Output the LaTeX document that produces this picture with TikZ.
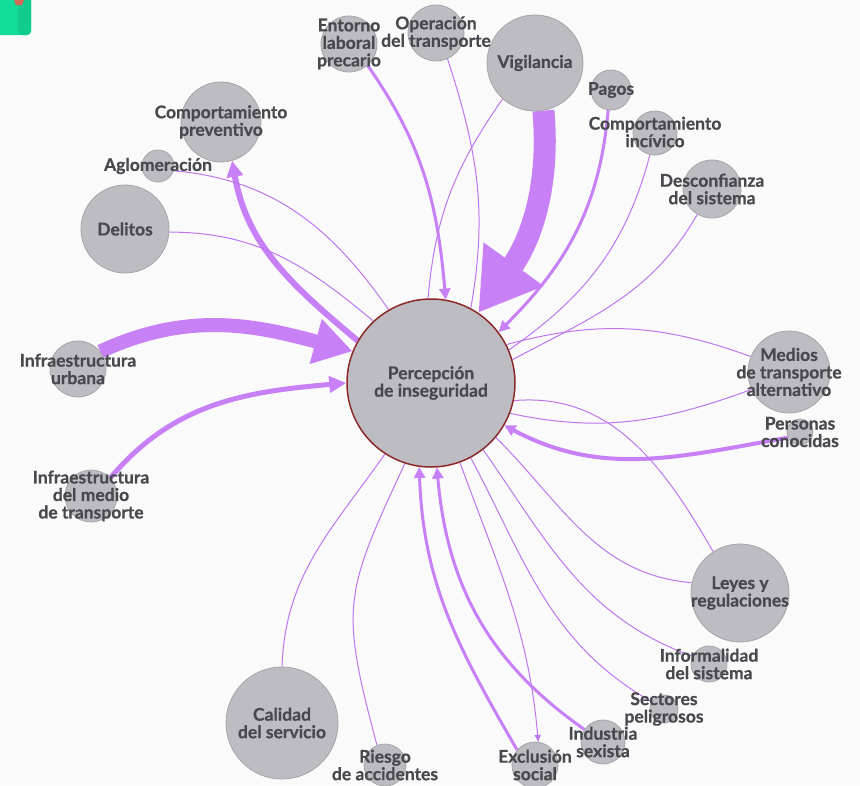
\documentclass[tikz,border=0pt]{standalone}
\usepackage{fontspec}
\setmainfont{Lato}[BoldFeatures={FakeBold=0.6}]
\usetikzlibrary{arrows.meta}
\pgfdeclarelayer{back}
\pgfdeclarelayer{bg}
\pgfdeclarelayer{fg}
\pgfsetlayers{back,bg,main,fg}
\definecolor{bgc}{RGB}{250,250,250}
\definecolor{nodefill}{RGB}{189,188,194}
\definecolor{nodeedge}{RGB}{165,164,170}
\definecolor{centeredge}{RGB}{140,42,42}
\definecolor{flow}{RGB}{200,128,246}
\definecolor{thinflow}{RGB}{190,118,238}
\definecolor{txt}{RGB}{72,72,78}
\definecolor{icongreen}{RGB}{18,220,152}
\definecolor{icongreen2}{RGB}{16,204,142}
\definecolor{iconred}{RGB}{212,104,84}
\tikzset{
  bub/.style={circle, fill=nodefill, draw=nodeedge, line width=0.8pt, minimum size=#1, inner sep=0pt},
  lab/.style={text=txt, font=\fontsize{17.5}{17.5}\selectfont\bfseries, align=center, inner sep=0pt},
  thinedge/.style={draw=thinflow, line width=1pt},
  midedge/.style={draw=flow, line width=3pt, -{Triangle[length=11pt,width=11pt]}},
  thinarrow/.style={draw=thinflow, line width=1pt, -{Triangle[length=7pt,width=6pt]}},
}
\begin{document}
\begin{tikzpicture}[x=1pt,y=1pt]
\useasboundingbox (0,0) rectangle (860,-785);
\begin{pgfonlayer}{back}
\fill[bgc] (0,0) rectangle (860,-785);
\end{pgfonlayer}
% corner icon
\fill[icongreen, rounded corners=4pt] (-10,10) rectangle (31,-35);
\fill[icongreen2, rounded corners=4pt] (18,10) rectangle (31,-35);
\fill[iconred] (14,0) -- (24,0) -- (22,-5) -- (16,-5) -- cycle;

% bubbles
\node[bub=168pt, draw=centeredge, line width=1.5pt] (C) at (431,-383) {};
\node[bub=96pt]  (V)  at (535,-63) {};
\node[bub=56pt]  (E)  at (349,-44) {};
\node[bub=56pt]  (O)  at (436,-33) {};
\node[bub=40pt]  (P)  at (611,-90) {};
\node[bub=44pt]  (I)  at (655,-133) {};
\node[bub=58pt]  (D)  at (712,-189) {};
\node[bub=80pt]  (CP) at (221,-122) {};
\node[bub=32pt]  (A)  at (158,-166) {};
\node[bub=88pt]  (Dl) at (125,-229) {};
\node[bub=56pt]  (U)  at (78,-369) {};
\node[bub=52pt]  (T)  at (91,-496) {};
\node[bub=82pt]  (M)  at (789,-372) {};
\node[bub=26pt]  (Pc) at (800,-432) {};
\node[bub=98pt]  (L)  at (740,-593) {};
\node[bub=36pt]  (F)  at (709,-664) {};
\node[bub=28pt]  (S)  at (664,-709) {};
\node[bub=44pt]  (Is) at (603,-742) {};
\node[bub=46pt]  (X)  at (535,-765) {};
\node[bub=42pt]  (R)  at (385,-765) {};
\node[bub=112pt] (Q)  at (282,-723) {};

% connectors
\begin{pgfonlayer}{bg}
\draw[draw=flow, line width=22pt, -{Triangle[length=60pt,width=70pt]}] (V.280) to[out=-85,in=54] (C.56);
\draw[thinedge] (V.228) to[out=235,in=85] (C.92);
\draw[midedge] (E.311) to[out=-55,in=95] (C.80);
\draw[thinedge] (O.294) to[out=-72,in=80] (C.62);
\draw[midedge] (P.262) to[out=-95,in=45] (C.37);
\draw[thinedge] (I.257) to[out=-105,in=35] (C.23);
\draw[thinedge] (D.240) to[out=-120,in=28] (C.16);
\draw[thinedge] (M.158) to[out=160,in=15] (C.27);
\draw[thinedge] (M.205) to[out=200,in=-12] (C.-21);
\draw[midedge, line width=4pt] (Pc.205) to[out=190,in=-28] (C.-30);
\draw[thinedge] (C.-12) to[out=5,in=120] (L.123);
\draw[thinedge] (L.168) to[out=175,in=-45] (C.-40);
\draw[thinedge] (F.155) to[out=160,in=-55] (C.-52);
\draw[thinedge] (S.150) to[out=150,in=-62] (C.-62);
\draw[thinarrow] (C.-70) to[out=-70,in=95] (X.82);
\draw[midedge] (Is.146) to[out=145,in=-85] (C.-86);
\draw[midedge] (X.140) to[out=120,in=-88] (C.-98);
\draw[thinedge] (R.112) to[out=105,in=-115,looseness=1.3] (C.-108);
\draw[thinedge] (Q.90) to[out=88,in=-125] (C.-123);
\draw[draw=flow, line width=14pt, -{Triangle[length=38pt,width=44pt]}] (U.38) to[out=25,in=165] (C.158);
\draw[draw=flow, line width=5pt, -{Triangle[length=17pt,width=16pt]}] (T.43) to[out=50,in=185] (C.180);
\draw[draw=flow, line width=6pt, -{Triangle[length=16pt,width=16pt]}] (C.150) to[out=140,in=-80] (CP.286);
\draw[thinedge] (A.-17) to[out=-5,in=125] (C.120);
\draw[thinedge] (Dl.-4) to[out=0,in=140] (C.133);
\end{pgfonlayer}

% labels
\begin{pgfonlayer}{fg}
\node[lab] (tC)  at (C)  {Percepción\\de inseguridad};
\node[lab] (tV)  at (V)  {Vigilancia};
\node[lab] (tE)  at (E)  {Entorno\\laboral\\precario};
\node[lab] (tO)  at (O)  {Operación\\del transporte};
\node[lab] (tP)  at (P)  {Pagos};
\node[lab] (tI)  at (655,-132) {Comportamiento\\incívico};
\node[lab] (tD)  at (D)  {Desconfianza\\del sistema};
\node[lab] (tCP) at (CP) {Comportamiento\\preventivo};
\node[lab] (tA)  at (A)  {Aglomeración};
\node[lab] (tDl) at (Dl) {Delitos};
\node[lab] (tU)  at (U)  {Infraestructura\\urbana};
\node[lab] (tT)  at (T)  {Infraestructura\\del medio\\de transporte};
\node[lab] (tM)  at (M)  {Medios\\de transporte\\alternativo};
\node[lab] (tPc) at (Pc) {Personas\\conocidas};
\node[lab] (tL)  at (L)  {Leyes y\\regulaciones};
\node[lab] (tF)  at (F)  {Informalidad\\del sistema};
\node[lab] (tS)  at (S)  {Sectores\\peligrosos};
\node[lab] (tIs) at (Is) {Industria\\sexista};
\node[lab] (tX)  at (X)  {Exclusión\\social};
\node[lab] (tR)  at (R)  {Riesgo\\de accidentes};
\node[lab] (tQ)  at (Q)  {Calidad\\del servicio};
\end{pgfonlayer}
\end{tikzpicture}
\end{document}
